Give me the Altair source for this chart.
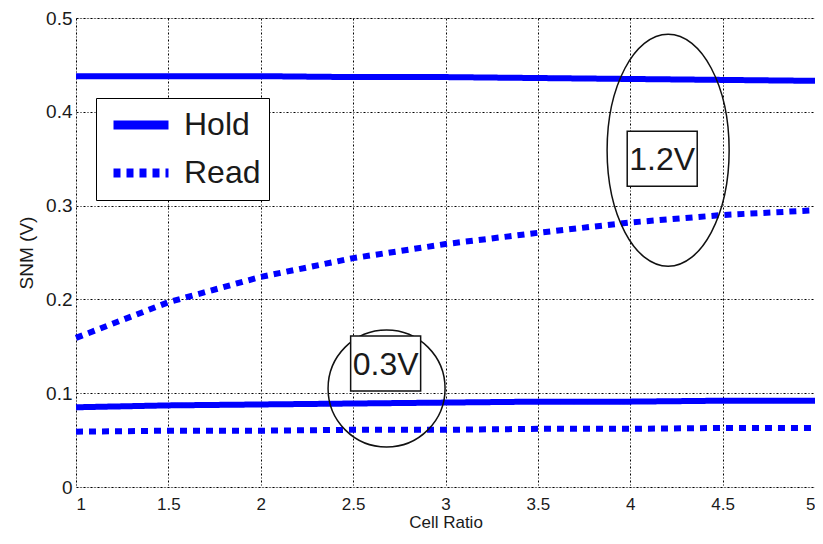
import altair as alt
import pandas as pd

# ---- data ----
cell_ratio = [1, 1.5, 2, 2.5, 3, 3.5, 4, 4.5, 5]
hold_12v = [0.438, 0.438, 0.438, 0.437, 0.437, 0.436, 0.435, 0.434, 0.433]
read_12v = [0.159, 0.197, 0.224, 0.244, 0.259, 0.271, 0.282, 0.290, 0.295]
hold_03v = [0.085, 0.087, 0.088, 0.089, 0.090, 0.091, 0.091, 0.092, 0.092]
read_03v = [0.059, 0.060, 0.060, 0.061, 0.061, 0.062, 0.062, 0.063, 0.063]

series_types = ["Hold", "Read"]
x_ticks = [1, 1.5, 2, 2.5, 3, 3.5, 4, 4.5, 5]
y_ticks = [0, 0.1, 0.2, 0.3, 0.4, 0.5]

# annotations
ann_labels = ["1.2V", "0.3V"]
ann_box_x = [4.173, 2.676]
ann_box_y = [0.350, 0.1316]
ell_12_x = [4.205]
ell_12_y = [0.359]
ell_03_x = [2.681]
ell_03_y = [0.105]

rows = []
for vals, t, v in [(hold_12v, "Hold", "1.2V"), (read_12v, "Read", "1.2V"),
                   (hold_03v, "Hold", "0.3V"), (read_03v, "Read", "0.3V")]:
    for xv, yv in zip(cell_ratio, vals):
        rows.append({"x": xv, "snm": yv, "type": t, "volt": v})
df = pd.DataFrame(rows)

box_df = pd.DataFrame({"x": ann_box_x, "snm": ann_box_y, "label": ann_labels})
ell12_df = pd.DataFrame({"x": ell_12_x, "snm": ell_12_y})
ell03_df = pd.DataFrame({"x": ell_03_x, "snm": ell_03_y})

SANS = "Liberation Sans, Arial, sans-serif"

xscale = alt.Scale(domain=[1, 5], nice=False, zero=False)
yscale = alt.Scale(domain=[0, 0.5], nice=False)

grid_common = dict(grid=True, gridColor="black", gridDash=[2, 2, 1, 2], gridWidth=1,
                   gridOpacity=1, domain=False, ticks=False,
                   labelColor="#1a1a1a", titleColor="#1a1a1a", titleFontWeight="normal")

x_enc = alt.X("x:Q", scale=xscale,
              axis=alt.Axis(values=x_ticks, format=".1~f", title="Cell Ratio",
                            labelFont=SANS, labelFontSize=17, labelPadding=9,
                            titleFont=SANS, titleFontSize=17, titlePadding=2,
                            **grid_common))
y_enc = alt.Y("snm:Q", scale=yscale,
              axis=alt.Axis(values=y_ticks, format=".1~f", title="SNM (V)",
                            labelFont=SANS, labelFontSize=19, labelPadding=4,
                            titleFont=SANS, titleFontSize=19, titlePadding=9,
                            **grid_common))

lines = alt.Chart(df).mark_line(color="#0000ff", strokeWidth=6, strokeCap="butt").encode(
    x=x_enc,
    y=y_enc,
    strokeDash=alt.StrokeDash(
        "type:N",
        scale=alt.Scale(domain=series_types, range=[[1, 0], [7, 6]]),
        title=None,
        legend=alt.Legend(orient="none", legendX=20, legendY=80,
                          fillColor="white", strokeColor="black", padding=8,
                          symbolType="stroke", symbolSize=3025, symbolStrokeWidth=9,
                          symbolStrokeColor="#0000ff", symbolOffset=5,
                          labelOffset=11, labelFont=SANS, labelFontSize=32,
                          labelColor="#1a1a1a", clipHeight=38, rowPadding=10,
                          labelExpr="datum.label + '       '"),
    ),
    detail="volt:N",
)

ell12 = alt.Chart(ell12_df).mark_point(
    shape="M -0.526 0 A 0.526 1 0 1 0 0.526 0 A 0.526 1 0 1 0 -0.526 0 Z",
    size=53824, filled=False, stroke="#111", strokeWidth=1.5, opacity=1,
).encode(x="x:Q", y="snm:Q")

ell03 = alt.Chart(ell03_df).mark_point(
    shape="circle", size=13689, filled=False, stroke="#111", strokeWidth=1.5, opacity=1,
).encode(x="x:Q", y="snm:Q")

boxes = alt.Chart(box_df).mark_point(
    shape="M -1 -0.786 H 1 V 0.786 H -1 Z", size=4900, filled=True,
    fill="white", stroke="#111", strokeWidth=1.5, opacity=1,
).encode(x="x:Q", y="snm:Q")

texts = alt.Chart(box_df).mark_text(
    font=SANS, fontSize=32, color="#1a1a1a", align="center", baseline="middle", dy=1,
).encode(x="x:Q", y="snm:Q", text="label:N")

chart = alt.layer(lines, ell12, ell03, boxes, texts).properties(
    width=739, height=469,
    padding={"left": 68, "top": 10, "right": 0, "bottom": 44},
    autosize=alt.AutoSizeParams(type="none"),
).configure_view(stroke="black", strokeWidth=1.5).configure(background="white")

chart.save("out.html", embed_options={"renderer": "svg", "actions": False})
